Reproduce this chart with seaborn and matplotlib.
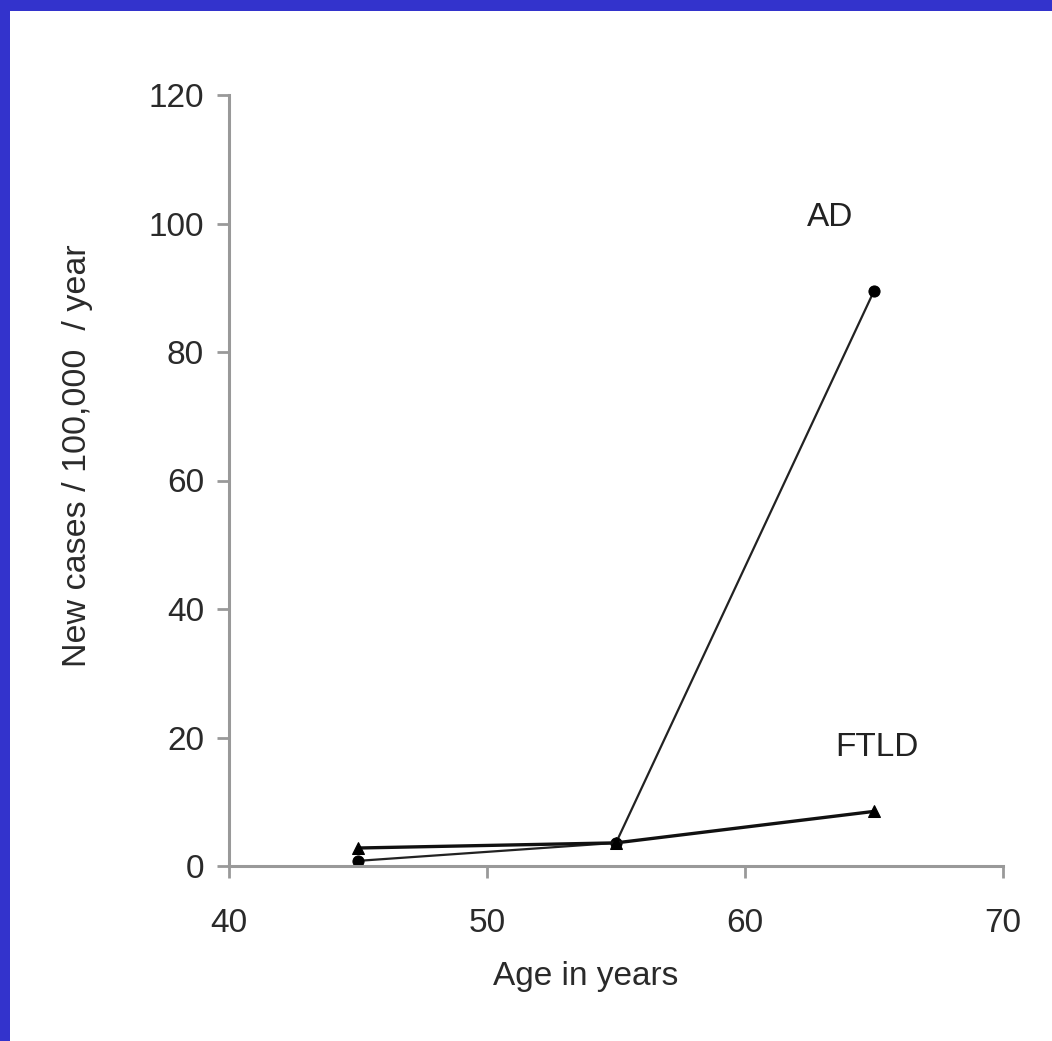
import matplotlib
matplotlib.use("Agg")
import matplotlib.pyplot as plt
import seaborn as sns
import pandas as pd
from matplotlib.patches import Rectangle

ages = [45, 55, 65]
ad_values = [0.8, 3.6, 89.5]
ftld_values = [2.8, 3.6, 8.5]
series_names = ["AD", "FTLD"]
x_ticks = [40, 50, 60, 70]
y_ticks = [0, 20, 40, 60, 80, 100, 120]

sns.set_theme(style="white")
plt.rcParams['font.family'] = ['Liberation Sans', 'DejaVu Sans']

df = pd.DataFrame({
    "age": ages * 2,
    "value": ad_values + ftld_values,
    "series": [series_names[0]] * 3 + [series_names[1]] * 3,
})

fig = plt.figure(figsize=(10.52, 10.41), dpi=100, facecolor="#3333CC")
fig.add_artist(Rectangle((10 / 1052, 0), 1, 1 - 11 / 1041, transform=fig.transFigure,
                         facecolor="white", edgecolor="none", zorder=0))
ax = fig.add_axes([229 / 1052, 1 - 866 / 1041, (1003 - 229) / 1052, (866 - 95) / 1041])
ax.set_facecolor("none")

sns.lineplot(data=df[df.series == "AD"], x="age", y="value", ax=ax, color="#222222",
             linewidth=1.6, marker="o", markersize=8, markeredgecolor="black",
             markerfacecolor="black", legend=False)
sns.lineplot(data=df[df.series == "FTLD"], x="age", y="value", ax=ax, color="#111111",
             linewidth=2.4, marker="^", markersize=9, markeredgecolor="black",
             markerfacecolor="black", legend=False)

ax.set_xlim(40, 70)
ax.set_ylim(0, 120)
ax.set_xticks(x_ticks)
ax.set_yticks(y_ticks)
ax.set_xticklabels([str(t) for t in x_ticks])
ax.set_yticklabels([str(t) for t in y_ticks])

for s in ["top", "right"]:
    ax.spines[s].set_visible(False)
for s in ["left", "bottom"]:
    ax.spines[s].set_color("#999999")
    ax.spines[s].set_linewidth(2.2)

ax.tick_params(axis="both", which="major", direction="out", length=8.5, width=2,
               color="#999999", labelsize=24, labelcolor="#2a2a2a")
ax.tick_params(axis="x", bottom=True, pad=21.5)
ax.tick_params(axis="y", left=True, pad=9.5)

ax.set_xlabel("Age in years", fontsize=24, color="#2a2a2a", labelpad=16, x=0.461)
ax.set_ylabel("New cases / 100,000  / year", fontsize=24.5, color="#2a2a2a",
              labelpad=40, y=0.532)

ax.text(63.3, 101, series_names[0], fontsize=24, color="#222222", ha="center", va="center")
ax.text(65.1, 18.5, series_names[1], fontsize=24, color="#222222", ha="center", va="center")

fig.savefig("out.png", dpi=100, facecolor=fig.get_facecolor())
